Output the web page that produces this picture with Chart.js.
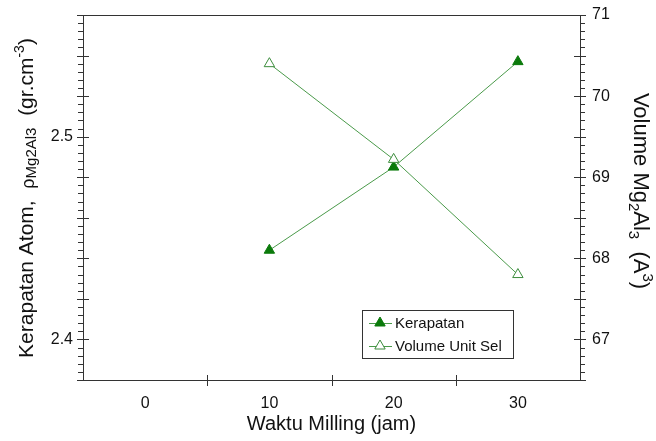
<!DOCTYPE html>
<html>
<head>
<meta charset="utf-8">
<script src="https://cdn.jsdelivr.net/npm/chart.js@4.4.0/dist/chart.umd.min.js"></script>
<style>
  html, body { margin: 0; padding: 0; background: #fff; }
</style>
</head>
<body>
<canvas id="chart" width="656" height="441"></canvas>
<script>
// data
const waktu = [10, 20, 30];
const kerapatan = [2.444, 2.485, 2.537];
const volume = [70.40, 69.22, 67.80];

// tick labels
const xLabels = [0, 10, 20, 30];
const leftLabels = [2.4, 2.5];
const rightLabels = [67, 68, 69, 70, 71];

const FONT = "'Liberation Sans', Arial, sans-serif";
const lineGreen = '#4a9a4a';
const darkGreen = '#0b7a0b';
const axisColor = '#333';

function isIn(list, v) {
    return list.some(l => Math.abs(l - v) < 1e-6);
}

// draw a line of text made of pieces with different sizes (sub / superscripts)
function drawRich(ctx, parts, cx, cy, angle) {
    ctx.save();
    ctx.translate(cx, cy);
    ctx.rotate(angle);
    ctx.textBaseline = 'alphabetic';
    ctx.textAlign = 'left';
    ctx.fillStyle = '#111';
    let total = 0;
    parts.forEach(p => {
        ctx.font = p.s + 'px ' + FONT;
        p.w = ctx.measureText(p.t).width;
        total += p.w;
    });
    let x = -total / 2;
    parts.forEach(p => {
        ctx.font = p.s + 'px ' + FONT;
        ctx.fillText(p.t, x, 7 + (p.dy || 0));
        x += p.w;
    });
    ctx.restore();
}

// frame, tick marks, axis titles and legend
const decoPlugin = {
    id: 'deco',
    afterDraw(chart) {
        const ctx = chart.ctx;
        const ca = chart.chartArea;
        const sx = chart.scales.x, sl = chart.scales.yL, sr = chart.scales.yR;
        ctx.save();
        ctx.strokeStyle = axisColor;
        ctx.lineWidth = 1;
        ctx.beginPath();
        ctx.moveTo(ca.left, ca.top + 0.5);
        ctx.lineTo(ca.right, ca.top + 0.5);

        // left axis: minor every 0.004, major every 0.02
        const nL = Math.round((sl.max - sl.min) / 0.004);
        for (let i = 0; i <= nL; i++) {
            const y = Math.round(sl.getPixelForValue(sl.min + i * 0.004)) + 0.5;
            const major = i % 5 === 0;
            ctx.moveTo(ca.left - (major ? 6 : 5), y);
            ctx.lineTo(ca.left + (major ? 6 : 0), y);
        }
        // right axis: minor every 0.1, major every 0.5
        const nR = Math.round((sr.max - sr.min) / 0.1);
        for (let i = 0; i <= nR; i++) {
            const y = Math.round(sr.getPixelForValue(sr.min + i * 0.1)) + 0.5;
            const major = i % 5 === 0;
            ctx.moveTo(ca.right - (major ? 6 : 0), y);
            ctx.lineTo(ca.right + (major ? 6 : 5), y);
        }
        // x axis ticks between labels
        [5, 15, 25].forEach(v => {
            const x = Math.round(sx.getPixelForValue(v)) + 0.5;
            ctx.moveTo(x, ca.bottom - 5);
            ctx.lineTo(x, ca.bottom + 6);
        });
        ctx.stroke();
        ctx.restore();

        // axis titles
        drawRich(ctx, [
            { t: 'Kerapatan Atom,  ', s: 21 },
            { t: 'ρ', s: 18, dy: 1 },
            { t: 'Mg2Al3', s: 15, dy: 3 },
            { t: '  (gr.cm', s: 21 },
            { t: '-3', s: 14, dy: -9 },
            { t: ')', s: 21 }
        ], 26, 198, -Math.PI / 2);

        drawRich(ctx, [
            { t: 'Volume Mg', s: 22 },
            { t: '2', s: 15, dy: 5 },
            { t: 'Al', s: 22 },
            { t: '3', s: 15, dy: 5 },
            { t: '  (A', s: 22 },
            { t: '3', s: 15, dy: -9 },
            { t: ')', s: 22 }
        ], 641, 191, Math.PI / 2);

        drawRich(ctx, [{ t: 'Waktu Milling (jam)', s: 20 }], (ca.left + ca.right) / 2, 423, 0);

        // legend box
        const bx = 362, by = 310, bw = 151, bh = 48;
        ctx.save();
        ctx.fillStyle = '#fff';
        ctx.fillRect(bx, by, bw, bh);
        ctx.strokeStyle = axisColor;
        ctx.strokeRect(bx + 0.5, by + 0.5, bw, bh);
        chart.data.datasets.forEach((ds, i) => {
            const y = by + 13 + i * 23;
            ctx.strokeStyle = ds.borderColor;
            ctx.lineWidth = 1;
            ctx.beginPath();
            ctx.moveTo(bx + 7, y + 0.5);
            ctx.lineTo(bx + 30, y + 0.5);
            ctx.stroke();
            ctx.fillStyle = ds.pointBackgroundColor;
            ctx.strokeStyle = ds.pointBorderColor;
            Chart.helpers.drawPoint(ctx, { pointStyle: 'triangle', radius: 6, rotation: 0, borderWidth: 1 }, bx + 18, y);
            ctx.fillStyle = '#111';
            ctx.font = '15px ' + FONT;
            ctx.textBaseline = 'middle';
            ctx.textAlign = 'left';
            ctx.fillText(ds.label, bx + 33, y + 1);
        });
        ctx.restore();
    }
};

function fixV(width) {
    return s => {
        s.width = width;
        s.paddingTop = 0;
        s.paddingBottom = 0;
    };
}

new Chart(document.getElementById('chart'), {
    type: 'line',
    data: {
        datasets: [{
            label: 'Kerapatan',
            data: waktu.map((w, i) => ({ x: w, y: kerapatan[i] })),
            yAxisID: 'yL',
            borderColor: lineGreen,
            borderWidth: 1,
            pointStyle: 'triangle',
            pointRadius: 6,
            pointHoverRadius: 6,
            pointBackgroundColor: darkGreen,
            pointBorderColor: darkGreen,
            order: 1
        }, {
            label: 'Volume Unit Sel',
            data: waktu.map((w, i) => ({ x: w, y: volume[i] })),
            yAxisID: 'yR',
            borderColor: lineGreen,
            borderWidth: 1,
            pointStyle: 'triangle',
            pointRadius: 6,
            pointHoverRadius: 6,
            pointBackgroundColor: '#fff',
            pointBorderColor: '#3c8c3c',
            order: 0
        }]
    },
    options: {
        responsive: false,
        animation: false,
        devicePixelRatio: 1,
        layout: { padding: { top: 15 } },
        plugins: { legend: { display: false }, tooltip: { enabled: false } },
        scales: {
            x: {
                type: 'linear',
                min: -5,
                max: 35,
                grid: { display: false, drawTicks: false },
                border: { color: axisColor },
                ticks: {
                    stepSize: 5,
                    autoSkip: false,
                    maxRotation: 0,
                    padding: 14,
                    color: '#111',
                    font: { family: FONT, size: 16 },
                    callback: v => isIn(xLabels, v) ? String(v) : ''
                },
                afterFit: s => {
                    s.height = 61;
                    s.paddingLeft = 0;
                    s.paddingRight = 0;
                }
            },
            yL: {
                type: 'linear',
                position: 'left',
                min: 2.38,
                max: 2.56,
                grid: { display: false, drawTicks: false },
                border: { color: axisColor },
                ticks: {
                    stepSize: 0.02,
                    autoSkip: false,
                    padding: 10,
                    color: '#111',
                    font: { family: FONT, size: 16 },
                    callback: v => isIn(leftLabels, v) ? v.toFixed(1) : ''
                },
                afterFit: fixV(83)
            },
            yR: {
                type: 'linear',
                position: 'right',
                min: 66.5,
                max: 71,
                grid: { display: false, drawTicks: false },
                border: { color: axisColor },
                ticks: {
                    stepSize: 0.5,
                    autoSkip: false,
                    padding: 12,
                    color: '#111',
                    font: { family: FONT, size: 16 },
                    callback: v => isIn(rightLabels, v) ? String(Math.round(v)) : ''
                },
                afterFit: fixV(76)
            }
        }
    },
    plugins: [decoPlugin]
});
</script>
</body>
</html>
